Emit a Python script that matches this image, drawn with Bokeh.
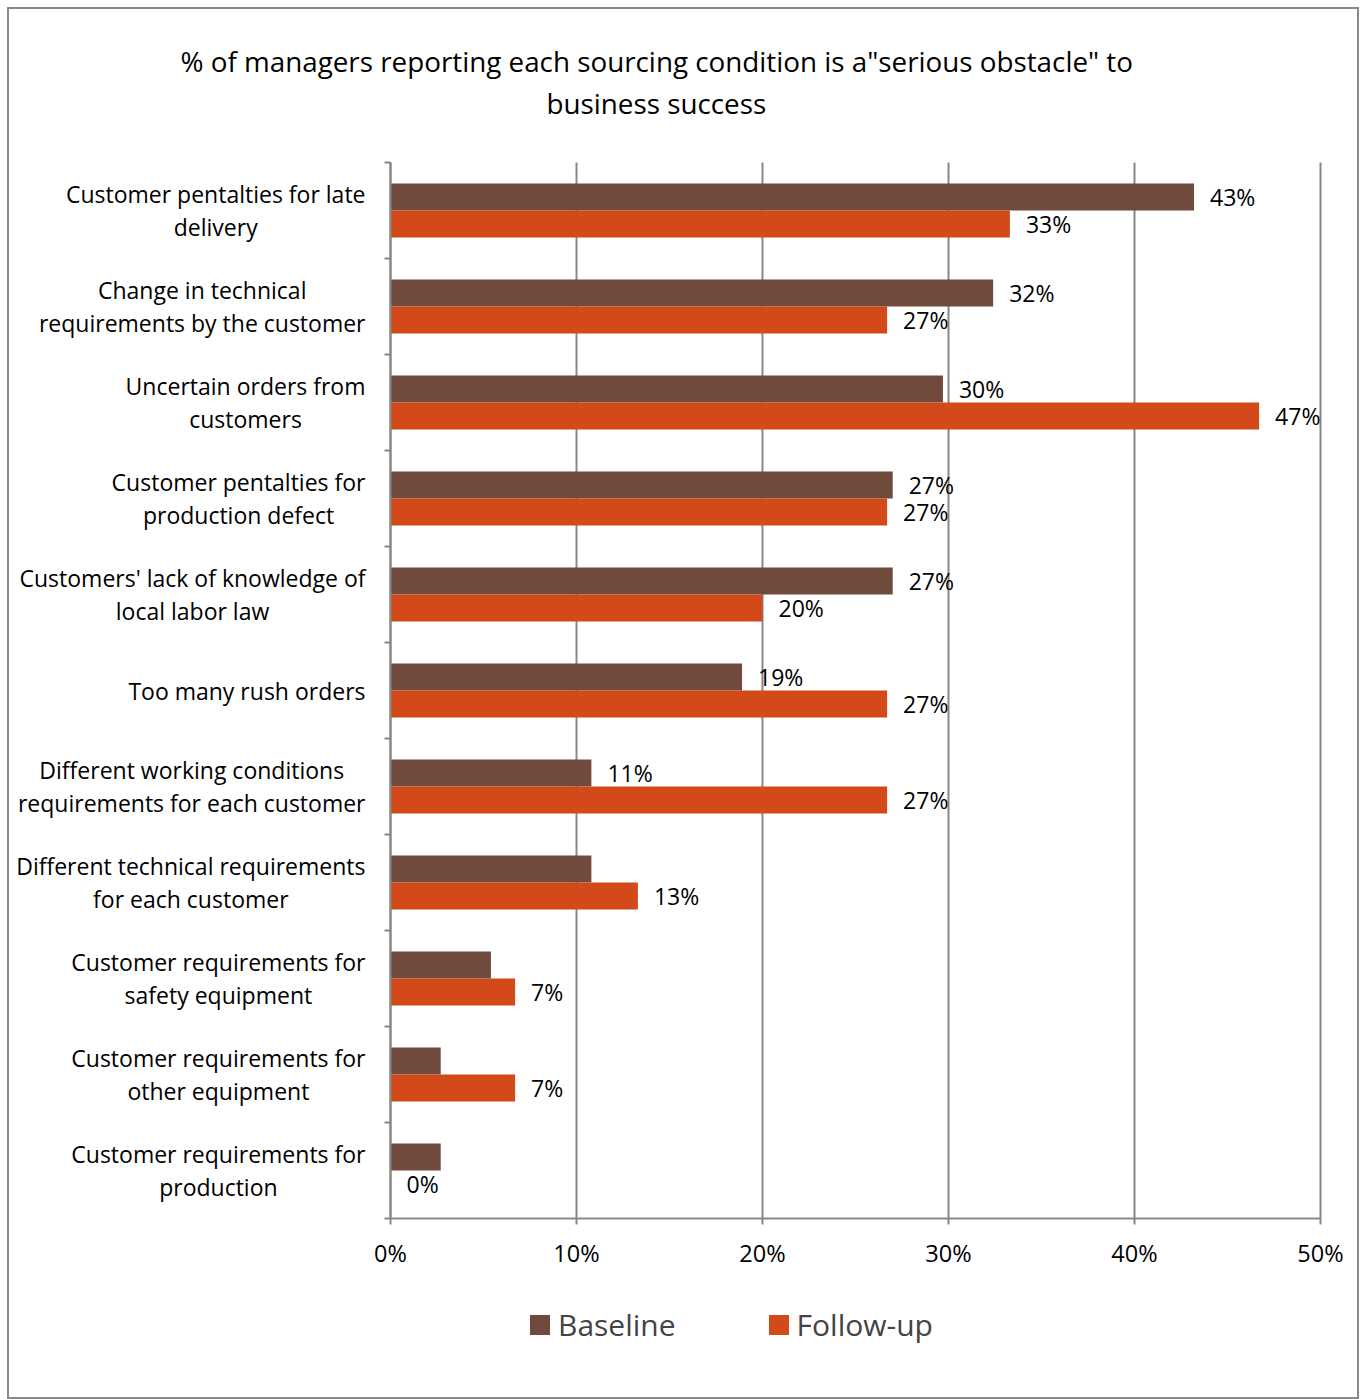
from bokeh.plotting import figure
from bokeh.models import (Range1d, FixedTicker, Legend, LegendItem, Title,
                          ColumnDataSource, PrintfTickFormatter)
from bokeh.core.properties import value
from bokeh.transform import dodge
from bokeh.embed import file_html
from bokeh.resources import INLINE
import numpy as np

title_lines = ["% of managers reporting each sourcing condition is a\"serious obstacle\" to",
               "business success"]

categories = [
    "Customer pentalties for late\ndelivery",
    "Change in technical\nrequirements by the customer",
    "Uncertain orders from\ncustomers",
    "Customer pentalties for\nproduction defect",
    "Customers' lack of knowledge of\nlocal labor law",
    "Too many rush orders",
    "Different working conditions\nrequirements for each customer",
    "Different technical requirements\nfor each customer",
    "Customer requirements for\nsafety equipment",
    "Customer requirements for\nother equipment",
    "Customer requirements for\nproduction",
]
baseline = [43.2, 32.4, 29.7, 27.0, 27.0, 18.9, 10.8, 10.8, 5.4, 2.7, 2.7]
followup = [33.3, 26.7, 46.7, 26.7, 20.0, 26.7, 26.7, 13.3, 6.7, 6.7, 0.0]
baseline_labels = ["43%", "32%", "30%", "27%", "27%", "19%", "11%", "", "", "", ""]
followup_labels = ["33%", "27%", "47%", "27%", "20%", "27%", "27%", "13%", "7%", "7%", "0%"]
x_ticks = [0, 10, 20, 30, 40, 50]
series_names = ["Baseline", "Follow-up"]

FONT = "Open Sans"
BROWN = "#6F4A3D"
ORANGE = "#D2491A"
GREY = "#878787"

# ---- layout, in page pixels ----
CONTENT_LEFT, CONTENT_TOP = 9, 9
INNER_W, INNER_H = 1348, 1388
MB_LEFT, MB_RIGHT, MB_BOTTOM = 2, 0, 53
FRAME_TOP = 122
AXIS_X, AXIS_X_END = 390, 1320       # pixel positions of 0% and 50%
ROWS_TOP, ROW_PX = 162, 96

frame_left = CONTENT_LEFT + MB_LEFT
frame_w = INNER_W - MB_LEFT - MB_RIGHT
frame_right = frame_left + frame_w
frame_h = INNER_H - (FRAME_TOP - CONTENT_TOP) - MB_BOTTOM
frame_bottom = FRAME_TOP + frame_h

n = len(categories)
xmax = x_ticks[-1]
px_per_unit = (AXIS_X_END - AXIS_X) / xmax
x_start = -(AXIS_X - frame_left) / px_per_unit
x_end = xmax + (frame_right - AXIS_X_END) / px_per_unit
y_end = -(ROWS_TOP - FRAME_TOP) / ROW_PX
y_start = n + (frame_bottom - (ROWS_TOP + n * ROW_PX)) / ROW_PX

pos = np.arange(n) + 0.5
src = ColumnDataSource(dict(pos=pos, base=baseline, follow=followup,
                            bl=baseline_labels, fl=followup_labels,
                            cat=categories))

p = figure(frame_width=frame_w, frame_height=frame_h,
           x_range=Range1d(x_start, x_end), y_range=Range1d(y_start, y_end),
           output_backend="svg", toolbar_location=None,
           min_border_left=MB_LEFT, min_border_right=MB_RIGHT,
           min_border_top=FRAME_TOP - CONTENT_TOP,
           min_border_bottom=MB_BOTTOM, margin=(7, 0, 0, 7),
           styles={"border": "2px solid #8a8a8a"})
p.outline_line_color = None
p.background_fill_color = "white"
p.border_fill_color = "white"
p.title.text = ""
p.xgrid.grid_line_color = None
p.ygrid.grid_line_color = None

# vertical grid lines, limited to the category rows
p.segment(x0=x_ticks, y0=[0] * len(x_ticks), x1=x_ticks, y1=[n] * len(x_ticks),
          line_color=GREY, line_width=2)

bh = 0.28
r1 = p.hbar(y=dodge("pos", -bh / 2), left=0, right="base", height=bh,
            source=src, fill_color=BROWN, line_color=None)
r2 = p.hbar(y=dodge("pos", bh / 2), left=0, right="follow", height=bh,
            source=src, fill_color=ORANGE, line_color=None)

# value labels
p.text(x="base", y=dodge("pos", -bh / 2), text="bl", source=src, x_offset=16,
       text_align="left", text_baseline="middle", text_font=value(FONT),
       text_font_size="23px", text_color="black")
p.text(x="follow", y=dodge("pos", bh / 2), text="fl", source=src, x_offset=16,
       text_align="left", text_baseline="middle", text_font=value(FONT),
       text_font_size="23px", text_color="black")

# category labels: block anchored at its right edge, lines centred
p.text(x=0, y="pos", text="cat", source=src, x_offset=-25,
       anchor="center_right", text_align="center", text_baseline="middle",
       text_font=value(FONT), text_font_size="23px", text_color="black",
       text_line_height=1.03)

# x axis, drawn at the bottom of the category rows
xa = p.xaxis[0]
xa.fixed_location = n
xa.bounds = (0, xmax)
xa.ticker = FixedTicker(ticks=x_ticks)
xa.formatter = PrintfTickFormatter(format="%d%%")
xa.axis_line_color = GREY
xa.axis_line_width = 2
xa.major_tick_line_color = GREY
xa.major_tick_line_width = 2
xa.major_tick_out = 6
xa.major_tick_in = 0
xa.minor_tick_line_color = None
xa.major_label_text_font = FONT
xa.major_label_text_font_size = "23.5px"
xa.major_label_text_color = "black"
xa.major_label_standoff = 12

# y axis line with category boundary ticks, drawn at 0%
ya = p.yaxis[0]
ya.fixed_location = 0
ya.bounds = (0, n)
ya.ticker = FixedTicker(ticks=[], minor_ticks=list(range(n + 1)))
ya.axis_line_color = GREY
ya.axis_line_width = 2
ya.major_tick_line_color = None
ya.major_tick_out = 0
ya.major_tick_in = 0
ya.minor_tick_line_color = GREY
ya.minor_tick_line_width = 2
ya.minor_tick_out = 6
ya.minor_tick_in = 0
ya.major_label_standoff = 0
ya.major_label_text_font_size = "0px"

t2 = Title(text=title_lines[1], align="left", offset=155 + (391 - frame_left),
           vertical_align="bottom", standoff=2, text_font=FONT,
           text_font_size="27.8px", text_font_style="normal", text_color="black")
t1 = Title(text=title_lines[0], align="left", offset=-211 + (391 - frame_left),
           vertical_align="bottom", standoff=2, text_font=FONT,
           text_font_size="27.8px", text_font_style="normal", text_color="black")
p.add_layout(t2, "above")
p.add_layout(t1, "above")

legend = Legend(items=[LegendItem(label=series_names[0], renderers=[r1]),
                       LegendItem(label=series_names[1], renderers=[r2])],
                orientation="horizontal", location=(527 - frame_left, -1),
                glyph_width=25, glyph_height=25, spacing=90, padding=0, margin=0,
                label_text_font=FONT, label_text_font_size="30px",
                label_standoff=6, border_line_color=None,
                background_fill_alpha=0)
p.add_layout(legend, "center")

open("out.html", "w").write(file_html(p, INLINE))
